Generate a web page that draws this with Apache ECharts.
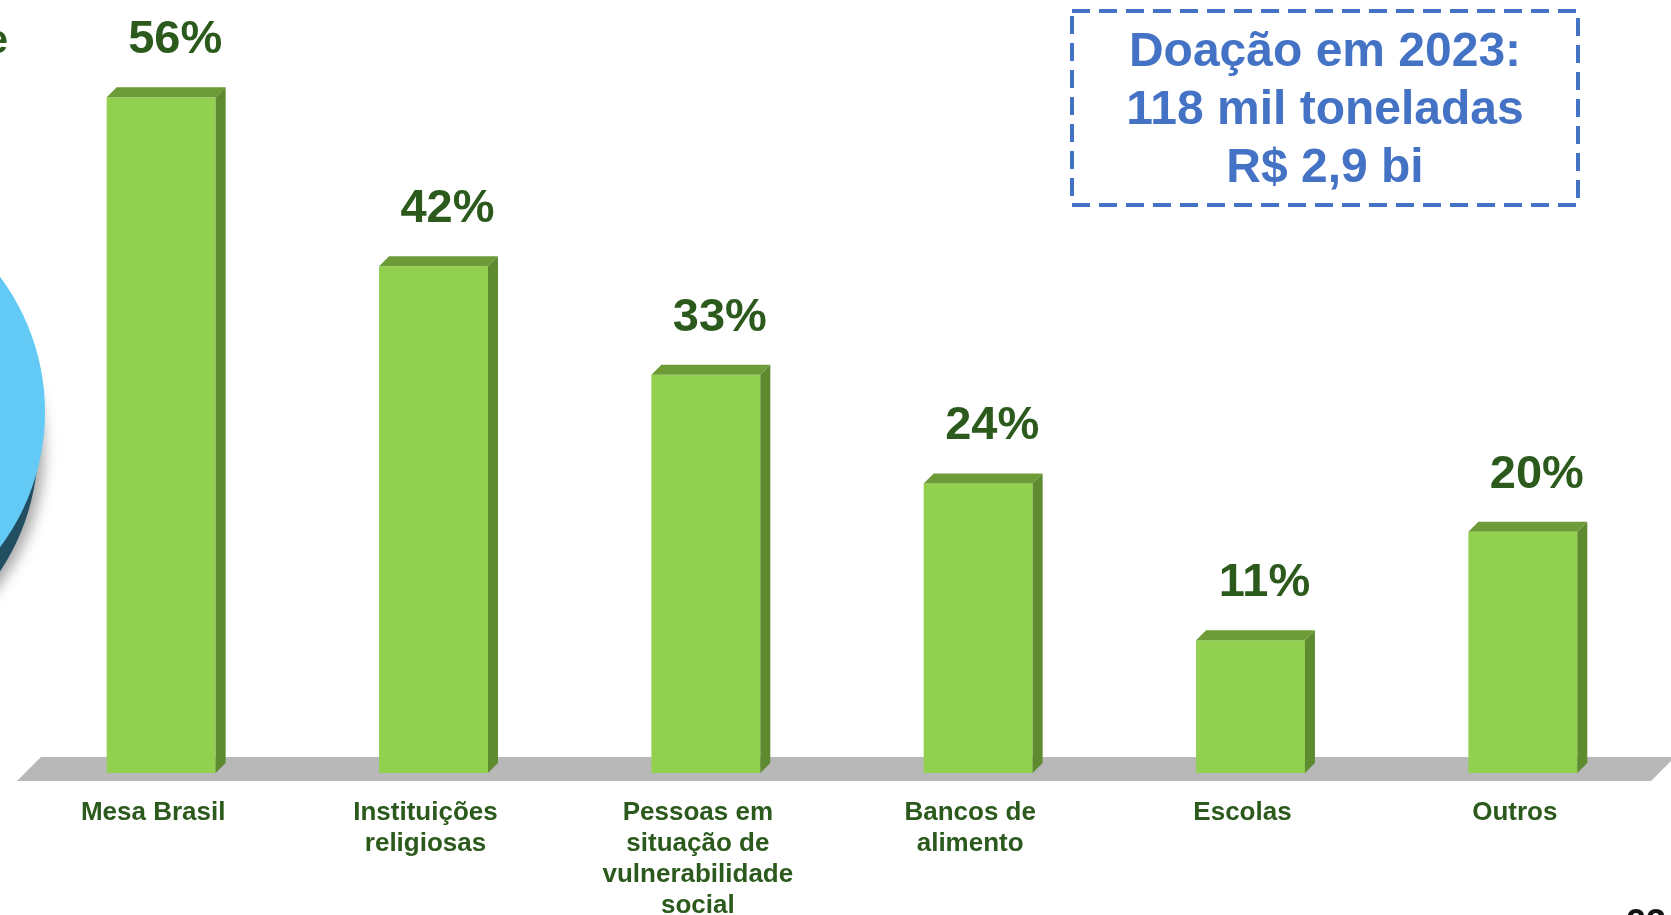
<!DOCTYPE html>
<html>
<head>
<meta charset="utf-8">
<script src="https://cdn.jsdelivr.net/npm/echarts@6/dist/echarts.min.js"></script>
<style>
  html, body { margin: 0; padding: 0; background: #ffffff; }
  #chart { width: 1671px; height: 915px; }
</style>
</head>
<body>
<div id="chart"></div>
<script>
// ---- data ----
const categories = ['Mesa Brasil', 'Instituições\nreligiosas', 'Pessoas em\nsituação de\nvulnerabilidade\nsocial', 'Bancos de\nalimento', 'Escolas', 'Outros'];
const shares = [56, 42, 33, 24, 11, 20];
const boxLines = ['Doação em 2023:', '118 mil toneladas', 'R$ 2,9 bi'];
const cutWord = 'e';
const pageNumber = '23';

// ---- styles ----
const GREEN_TEXT = '#2b5a1c';
const FRONT = '#92d050';
const TOPF = '#6c9b38';
const SIDE = '#5e8a30';
const FLOOR = '#b8b8b8';
const BLUE = '#4472c4';
const FONT = '"Liberation Sans", Arial, sans-serif';

const chart = echarts.init(document.getElementById('chart'), null, { renderer: 'canvas' });

const option = {
  backgroundColor: '#ffffff',
  animation: false,
  grid: { left: 17, right: 20, top: 57, bottom: 134, containLabel: false, outerBoundsMode: 'none' },
  xAxis: {
    type: 'category',
    data: categories,
    axisLine: { show: false },
    axisTick: { show: false },
    splitLine: { show: false },
    axisLabel: {
      interval: 0,
      margin: 16,
      fontSize: 26,
      fontWeight: 'bold',
      fontFamily: FONT,
      color: GREEN_TEXT,
      lineHeight: 31,
      align: 'center'
    }
  },
  yAxis: { type: 'value', min: 0, max: 60, show: false },
  series: [
    {
      type: 'custom',
      z: 1,
      silent: true,
      data: [[0, 0]],
      renderItem: function (params, api) {
        const cs = params.coordSys;
        const yb = cs.y + cs.height;
        const depth = 24;
        return {
          type: 'polygon',
          shape: { points: [[cs.x, yb], [cs.x + cs.width, yb], [cs.x + cs.width + depth, yb - depth], [cs.x + depth, yb - depth]] },
          style: { fill: FLOOR }
        };
      }
    },
    {
      type: 'custom',
      z: 2,
      data: shares.map((v, i) => [i, v]),
      encode: { x: 0, y: 1 },
      renderItem: function (params, api) {
        const i = api.value(0);
        const v = api.value(1);
        const base = api.coord([i, 0]);
        const top = api.coord([i, v]);
        const band = api.size([1, 0])[0];
        const w = band * 0.4;
        const off = 8;
        const d = 10;
        const cx = base[0] + off;
        const x0 = cx - w / 2, x1 = cx + w / 2;
        const yb = base[1] - off, yt = top[1] - off;
        return {
          type: 'group',
          children: [
            { type: 'rect', shape: { x: x0, y: yt, width: w, height: yb - yt }, style: { fill: FRONT } },
            { type: 'polygon', shape: { points: [[x0, yt], [x0 + d, yt - d], [x1 + d, yt - d], [x1, yt]] }, style: { fill: TOPF } },
            { type: 'polygon', shape: { points: [[x1, yt], [x1 + d, yt - d], [x1 + d, yb - d], [x1, yb]] }, style: { fill: SIDE } },
            {
              type: 'text',
              style: {
                text: v + '%', x: cx + 14, y: yt - 57,
                align: 'center', verticalAlign: 'middle',
                font: 'bold 47px ' + FONT, fill: GREEN_TEXT
              }
            }
          ]
        };
      }
    }
  ],
  graphic: [
    {
      type: 'circle', z: 0, silent: true,
      shape: { cx: -188, cy: 446, r: 226 },
      style: { fill: '#224e62', shadowBlur: 14, shadowOffsetX: 6, shadowOffsetY: 4, shadowColor: 'rgba(0,0,0,0.35)' }
    },
    {
      type: 'circle', z: 0, silent: true,
      shape: { cx: -181, cy: 412, r: 226 },
      style: { fill: '#62caf5' }
    },
    {
      type: 'text', silent: true,
      style: { text: cutWord, x: 8, y: 42, align: 'right', verticalAlign: 'middle', font: 'bold 40px ' + FONT, fill: GREEN_TEXT }
    },
    {
      type: 'rect', silent: true,
      shape: { x: 1072, y: 11, width: 506, height: 194 },
      style: { fill: 'none', stroke: BLUE, lineWidth: 4, lineDash: [18, 9] }
    },
    {
      type: 'text', silent: true,
      style: {
        text: boxLines.join('\n'), x: 1325, y: 111,
        align: 'center', verticalAlign: 'middle',
        font: 'bold 48px ' + FONT, lineHeight: 58, fill: BLUE
      }
    },
    {
      type: 'text', silent: true,
      style: { text: pageNumber, x: 1626, y: 925, align: 'left', verticalAlign: 'middle', font: 'bold 36px ' + FONT, fill: '#111111' }
    }
  ]
};

chart.setOption(option);
</script>
</body>
</html>
